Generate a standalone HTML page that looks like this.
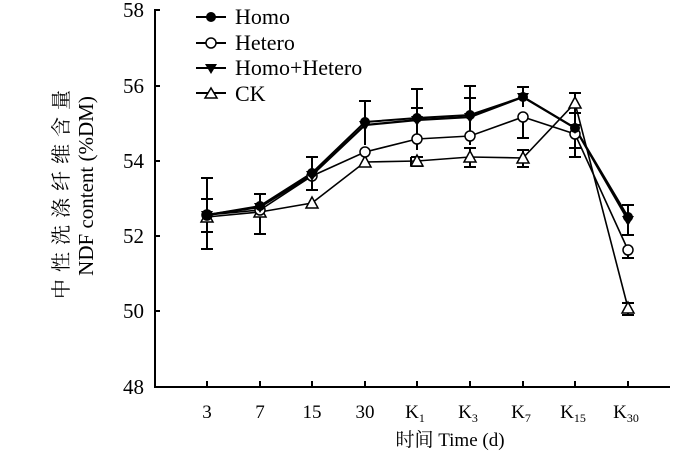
<!DOCTYPE html>
<html><head><meta charset="utf-8"><style>body{margin:0;background:#fff}svg{display:block}</style></head><body>
<svg width="700" height="458" viewBox="0 0 700 458" xmlns="http://www.w3.org/2000/svg" font-family="Liberation Serif, 'Noto Serif CJK SC', serif">
<g stroke="#000" stroke-width="2" fill="none">
<path d="M160,10 H155 V387 H670"/>
<path d="M155,86 h5 M155,161 h5 M155,236 h5 M155,311 h5"/>
<path d="M207,387 v-6 M260,387 v-6 M312,387 v-6 M365,387 v-6 M417,387 v-6 M470,387 v-6 M523,387 v-6 M575,387 v-6 M628,387 v-6"/>
</g>
<g font-size="21" text-anchor="end" fill="#000">
<text x="144" y="17">58</text><text x="144" y="93">56</text><text x="144" y="168">54</text><text x="144" y="243">52</text><text x="144" y="318">50</text><text x="144" y="394">48</text>
</g>
<g font-size="19" text-anchor="middle" fill="#000">
<text x="207" y="418">3</text><text x="260" y="418">7</text><text x="312" y="418">15</text><text x="365" y="418">30</text>
<text x="415" y="418">K<tspan font-size="12" dy="4">1</tspan></text>
<text x="468" y="418">K<tspan font-size="12" dy="4">3</tspan></text>
<text x="521" y="418">K<tspan font-size="12" dy="4">7</tspan></text>
<text x="573" y="418">K<tspan font-size="12" dy="4">15</tspan></text>
<text x="626" y="418">K<tspan font-size="12" dy="4">30</tspan></text>
<text x="450" y="446">时间 Time (d)</text>
</g>
<text transform="translate(68,191) rotate(-90)" font-size="20" letter-spacing="7" text-anchor="middle">中性洗涤纤维含量</text>
<text transform="translate(93,186) rotate(-90)" font-size="21" text-anchor="middle">NDF content (%DM)</text>
<g stroke="#000" stroke-width="2">
<path d="M207,178V249M201,178h12M201,249h12 M207,199V232M201,199h12M201,232h12"/>
<path d="M260,194V234M254,194h12M254,234h12"/>
<path d="M312,157V190M306,157h12M306,190h12"/>
<path d="M365,101V145M359,101h12"/>
<path d="M417,89V150M411,89h12M411,108h12M411,157V166M411,157h12M411,166h12"/>
<path d="M470,86V145M464,86h12M464,98h12M464,148h12M470,148V167M464,167h12"/>
<path d="M523,87V107M517,87h12M523,117V138M517,138h12M523,150V167M517,150h12M517,167h12"/>
<path d="M575,93V157M569,93h12M569,157h12M569,113h12M569,148h12"/>
<path d="M628,205V235M622,205h12M622,235h12M628,245V258M622,258h12M628,303V315M622,303h12M622,315h12"/>
</g>
<g fill="none" stroke="#000" stroke-width="1.6">
<polyline points="207,217 260,212 312,203 365,162 417,161 470,157 523,158 575,103 628,308"/>
<polyline points="207,215 260,210 312,176 365,152 417,139 470,136 523,117 575,134 628,250"/>
<polyline stroke-width="2.2" points="207,215 260,207 312,175 365,125 417,120 470,117 523,97 575,128 628,220"/>
<polyline stroke-width="2" points="207,215 260,206 312,173 365,122 417,118 470,115 523,97 575,128 628,217"/>
</g>
<g stroke="#000" stroke-width="1.5" fill="#fff">
<path d="M207,211l6,11h-12z M260,206l6,11h-12z M312,197l6,11h-12z M365,156l6,11h-12z M417,155l6,11h-12z M470,151l6,11h-12z M523,152l6,11h-12z M575,97l6,11h-12z M628,302l6,11h-12z"/>
<circle cx="207" cy="215" r="5"/><circle cx="260" cy="210" r="5"/><circle cx="312" cy="176" r="5"/><circle cx="365" cy="152" r="5"/><circle cx="417" cy="139" r="5"/><circle cx="470" cy="136" r="5"/><circle cx="523" cy="117" r="5"/><circle cx="575" cy="134" r="5"/><circle cx="628" cy="250" r="5"/>
</g>
<g fill="#000">
<path d="M201,211h12l-6,10z M254,203h12l-6,10z M306,171h12l-6,10z M359,121h12l-6,10z M411,116h12l-6,10z M464,113h12l-6,10z M517,93h12l-6,10z M569,124h12l-6,10z M622,216h12l-6,10z"/>
<circle cx="207" cy="215" r="5"/><circle cx="260" cy="206" r="5"/><circle cx="312" cy="173" r="5"/><circle cx="365" cy="122" r="5"/><circle cx="417" cy="118" r="5"/><circle cx="470" cy="115" r="5"/><circle cx="523" cy="97" r="5"/><circle cx="575" cy="128" r="5"/><circle cx="628" cy="217" r="5"/>
</g>
<g stroke="#000" stroke-width="2">
<path d="M196,17h30 M196,43h30 M196,68h30 M196,93h30"/>
</g>
<circle cx="211" cy="17" r="5" fill="#000"/>
<circle cx="211" cy="43" r="5" fill="#fff" stroke="#000" stroke-width="1.5"/>
<path d="M205,64h12l-6,10z" fill="#000"/>
<path d="M211,88l6,10h-12z" fill="#fff" stroke="#000" stroke-width="1.5"/>
<g font-size="22" fill="#000">
<text x="235" y="24">Homo</text><text x="235" y="50">Hetero</text><text x="235" y="75">Homo+Hetero</text><text x="235" y="101">CK</text>
</g>
</svg>
</body></html>
